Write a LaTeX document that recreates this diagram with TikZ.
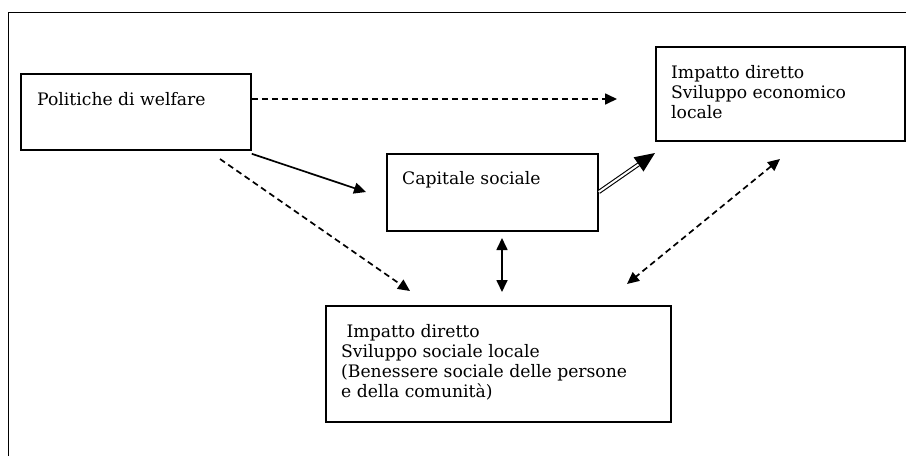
\documentclass[tikz,border=0pt]{standalone}
\usepackage{fontspec}
\setmainfont{DejaVu Serif}
\usetikzlibrary{arrows.meta,calc}
\begin{document}
\begin{tikzpicture}[x=1pt,y=-1pt,
  box/.style={draw,line width=1.8pt,inner sep=0pt,anchor=north west},
  lbl/.style={anchor=north west,inner sep=0pt,align=left,font=\fontsize{17.2}{20}\selectfont},
  tip/.style={-{Triangle[length=12pt,width=11pt]}},
  dtip/.style={{Triangle[length=12pt,width=11pt]}-{Triangle[length=12pt,width=11pt]}},
  dsh/.style={line width=1.7pt,dash pattern=on 6pt off 4pt},
  sol/.style={line width=1.7pt}]
\path[use as bounding box] (0,0) rectangle (906,456);
\draw[line width=1pt] (8,456) -- (8,12) -- (906,12);
% boxes
\node[box,minimum width=249pt,minimum height=94pt] (eco) at (655,46) {};
\node[box,minimum width=230pt,minimum height=76pt] (pol) at (20,73) {};
\node[box,minimum width=211pt,minimum height=77pt] (cap) at (386,153) {};
\node[box,minimum width=345pt,minimum height=116pt] (soc) at (325,305) {};
% texts
\node[lbl] (tpol) at (37,92) {Politiche di welfare};
\node[lbl] (teco) at (671,65) {Impatto diretto\\Sviluppo economico\\locale};
\node[lbl] (tcap) at (402,171) {Capitale sociale};
\node[lbl] (tsoc) at (341,324) {\ Impatto diretto\\Sviluppo sociale locale\\(Benessere sociale delle persone\\e della comunità)};
% free ends
\coordinate (e1) at (617,99);
\coordinate (e2) at (366,192);
\coordinate (e3) at (655,153);
\coordinate (e4) at (410,291);
\coordinate (s4) at (220,159);
\coordinate (v1) at (502,238);
\coordinate (v2) at (502,292);
\coordinate (d1) at (780,159);
\coordinate (d2) at (627,284);
% connectors
\draw[dsh,tip] ($(pol.north east)+(0,26)$) -- (e1);
\draw[sol,tip] ($(pol.south east)+(0,3)$) -- (e2);
\draw[line width=1.1pt,double distance=2pt,-{Triangle[length=20pt,width=17pt]}] ($(cap.north east)+(0,39)$) -- (e3);
\draw[dsh,tip] (s4) -- (e4);
\draw[sol,dtip] (v1) -- (v2);
\draw[dsh,dtip] (d1) -- (d2);
\end{tikzpicture}
\end{document}
